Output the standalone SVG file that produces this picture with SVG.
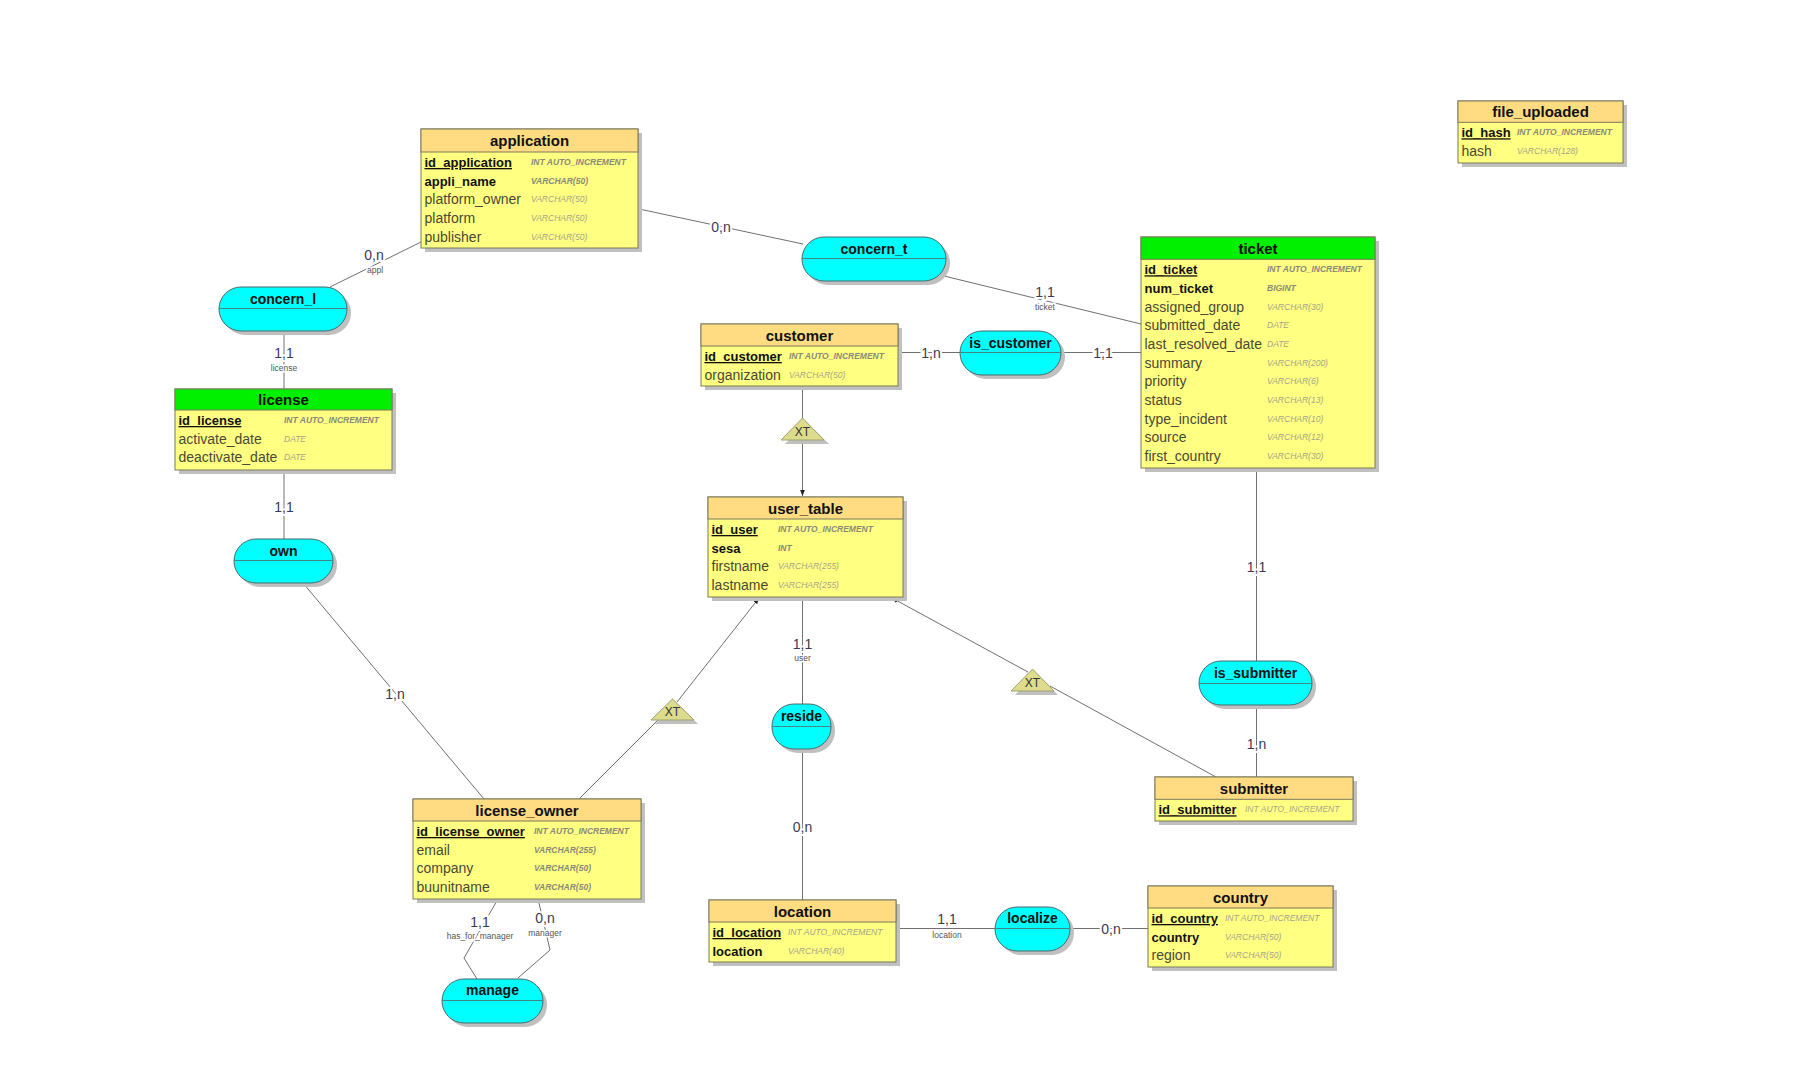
<svg xmlns="http://www.w3.org/2000/svg" width="1800" height="1080" viewBox="0 0 1800 1080">
<defs>
<style>
.bg{fill:#ffffff}
.sh{fill:#c0c0c0}
.hdr{fill:#ffdc82;stroke:#7a7a5a;stroke-width:1}
.hdrg{fill:#00f000;stroke:#7a7a5a;stroke-width:1}
.body{fill:#ffff82;stroke:#7a7a5a;stroke-width:1}
.ttl{font-family:"Liberation Sans",Arial,sans-serif;font-size:15px;font-weight:bold;fill:#111;text-anchor:middle}
.k{font-family:"Liberation Sans",Arial,sans-serif;font-size:13px;font-weight:bold;fill:#111}
.u{text-decoration:underline}
.n{font-family:"Liberation Sans",Arial,sans-serif;font-size:14px;fill:#4a4a34}
.tk{font-family:"Liberation Sans",Arial,sans-serif;font-size:8.5px;font-weight:bold;font-style:italic;fill:#8a8a7a}
.tn{font-family:"Liberation Sans",Arial,sans-serif;font-size:8.5px;font-style:italic;fill:#a5a58a}
.rel{fill:#00ffff;stroke:#4a6a6a;stroke-width:1}
.div{stroke:#3c8a8a;stroke-width:1}
.rt{font-family:"Liberation Sans",Arial,sans-serif;font-size:14px;font-weight:bold;fill:#111;text-anchor:middle}
.conn{stroke:#707070;stroke-width:1;fill:none}
.card{font-family:"Liberation Sans",Arial,sans-serif;font-size:14px;fill:#3a3a58;text-anchor:middle;stroke:#fff;stroke-width:4;paint-order:stroke}
.role{font-family:"Liberation Sans",Arial,sans-serif;font-size:8.5px;fill:#555;text-anchor:middle;stroke:#fff;stroke-width:3;paint-order:stroke}
.tri{fill:#dcdc8c;stroke:#a0a070;stroke-width:1}
.xt{font-family:"Liberation Sans",Arial,sans-serif;font-size:12px;fill:#333;text-anchor:middle}
</style>
<marker id="arr" viewBox="0 0 10 10" refX="10" refY="5" markerWidth="6" markerHeight="6" orient="auto-start-reverse">
<path d="M0,1 L10,5 L0,9 z" fill="#222"/>
</marker>
</defs>
<rect class="bg" x="0" y="0" width="1800" height="1080"/>

<g id="connectors">
<line class="conn" x1="639" y1="209" x2="803" y2="244"/>
<line class="conn" x1="421" y1="242" x2="330" y2="287"/>
<line class="conn" x1="944" y1="276" x2="1141" y2="324"/>
<line class="conn" x1="898" y1="352.5" x2="960" y2="352.5"/>
<line class="conn" x1="1061" y1="352.5" x2="1141" y2="352.5"/>
<line class="conn" x1="284" y1="331" x2="284" y2="389"/>
<line class="conn" x1="284" y1="470" x2="284" y2="539"/>
<line class="conn" x1="303" y1="583" x2="484" y2="799"/>
<line class="conn" x1="802.5" y1="386" x2="802.5" y2="420"/>
<line class="conn" x1="802.5" y1="440" x2="802.5" y2="496" marker-end="url(#arr)"/>
<line class="conn" x1="802.5" y1="597" x2="802.5" y2="704"/>
<line class="conn" x1="802.5" y1="749" x2="802.5" y2="900"/>
<line class="conn" x1="896" y1="928.5" x2="995" y2="928.5"/>
<line class="conn" x1="1070" y1="928.5" x2="1148" y2="928.5"/>
<line class="conn" x1="1256.5" y1="468" x2="1256.5" y2="661"/>
<line class="conn" x1="1256.5" y1="705" x2="1256.5" y2="777"/>
<line class="conn" x1="579" y1="799" x2="662" y2="716"/>
<line class="conn" x1="677" y1="702" x2="759" y2="598" marker-end="url(#arr)"/>
<line class="conn" x1="1216" y1="777" x2="1050" y2="686"/>
<line class="conn" x1="1028" y1="672" x2="892" y2="598" marker-end="url(#arr)"/>
<polyline class="conn" points="498,899 464,958 477,979"/>
<polyline class="conn" points="538,899 550,950 518,978"/>
<text class="card" x="721" y="232">0,n</text>
<text class="card" x="374" y="260">0,n</text>
<text class="role" x="375" y="273">appl</text>
<text class="card" x="1045" y="296.5">1,1</text>
<text class="role" x="1045" y="310">ticket</text>
<text class="card" x="931" y="357.5">1,n</text>
<text class="card" x="1103" y="357.5">1,1</text>
<text class="card" x="284" y="357.5">1,1</text>
<text class="role" x="284" y="371">license</text>
<text class="card" x="284" y="512">1,1</text>
<text class="card" x="395" y="698.5">1,n</text>
<text class="card" x="802.5" y="649">1,1</text>
<text class="role" x="802.5" y="661">user</text>
<text class="card" x="802.5" y="831.5">0,n</text>
<text class="card" x="947" y="924">1,1</text>
<text class="role" x="947" y="938">location</text>
<text class="card" x="1111" y="933.5">0,n</text>
<text class="card" x="1256.5" y="572">1,1</text>
<text class="card" x="1256.5" y="749">1,n</text>
<text class="card" x="480" y="926.5">1,1</text>
<text class="role" x="480" y="939">has_for_manager</text>
<text class="card" x="545" y="922.5">0,n</text>
<text class="role" x="545" y="936">manager</text>
</g>

<g id="xt_customer">
<polygon class="sh" points="806,422 829,444 785,444"/>
<polygon class="tri" points="802.5,418 824,440 781,440"/>
<text class="xt" x="802.5" y="436">XT</text>
</g>
<g id="xt_license_owner">
<polygon class="sh" points="676,703 698,724 655,724"/>
<polygon class="tri" points="672.5,699 694,720 651,720"/>
<text class="xt" x="672.5" y="716">XT</text>
</g>
<g id="xt_submitter">
<polygon class="sh" points="1036,673 1058,695 1015,695"/>
<polygon class="tri" points="1032.5,669 1054,691 1011,691"/>
<text class="xt" x="1032.5" y="687">XT</text>
</g>

<g id="application">
<rect class="sh" x="425" y="133" width="217" height="119"/>
<rect class="body" x="421" y="129" width="217" height="119"/>
<rect class="hdr" x="421" y="129" width="217" height="23"/>
<text class="ttl" x="529.5" y="146">application</text>
<text class="k u" x="424.5" y="167">id_application</text><text class="tk" x="531" y="165">INT AUTO_INCREMENT</text>
<text class="k" x="424.5" y="185.7">appli_name</text><text class="tk" x="531" y="183.7">VARCHAR(50)</text>
<text class="n" x="424.5" y="204.3">platform_owner</text><text class="tn" x="531" y="202.3">VARCHAR(50)</text>
<text class="n" x="424.5" y="223">platform</text><text class="tn" x="531" y="221">VARCHAR(50)</text>
<text class="n" x="424.5" y="241.7">publisher</text><text class="tn" x="531" y="239.7">VARCHAR(50)</text>
</g>

<g id="ticket">
<rect class="sh" x="1145" y="241" width="234" height="231"/>
<rect class="body" x="1141" y="237" width="234" height="231"/>
<rect class="hdrg" x="1141" y="237" width="234" height="22.3"/>
<text class="ttl" x="1258" y="253.5">ticket</text>
<text class="k u" x="1144.5" y="274.3">id_ticket</text><text class="tk" x="1267" y="272.3">INT AUTO_INCREMENT</text>
<text class="k" x="1144.5" y="293">num_ticket</text><text class="tk" x="1267" y="291">BIGINT</text>
<text class="n" x="1144.5" y="311.7">assigned_group</text><text class="tn" x="1267" y="309.7">VARCHAR(30)</text>
<text class="n" x="1144.5" y="330.3">submitted_date</text><text class="tn" x="1267" y="328.3">DATE</text>
<text class="n" x="1144.5" y="349">last_resolved_date</text><text class="tn" x="1267" y="347">DATE</text>
<text class="n" x="1144.5" y="367.7">summary</text><text class="tn" x="1267" y="365.7">VARCHAR(200)</text>
<text class="n" x="1144.5" y="386.3">priority</text><text class="tn" x="1267" y="384.3">VARCHAR(6)</text>
<text class="n" x="1144.5" y="405">status</text><text class="tn" x="1267" y="403">VARCHAR(13)</text>
<text class="n" x="1144.5" y="423.7">type_incident</text><text class="tn" x="1267" y="421.7">VARCHAR(10)</text>
<text class="n" x="1144.5" y="442.3">source</text><text class="tn" x="1267" y="440.3">VARCHAR(12)</text>
<text class="n" x="1144.5" y="461">first_country</text><text class="tn" x="1267" y="459">VARCHAR(30)</text>
</g>

<g id="license">
<rect class="sh" x="179" y="393" width="217" height="81"/>
<rect class="body" x="175" y="389" width="217" height="81"/>
<rect class="hdrg" x="175" y="389" width="217" height="21"/>
<text class="ttl" x="283.5" y="405">license</text>
<text class="k u" x="178.5" y="425">id_license</text><text class="tk" x="284" y="423">INT AUTO_INCREMENT</text>
<text class="n" x="178.5" y="443.7">activate_date</text><text class="tn" x="284" y="441.7">DATE</text>
<text class="n" x="178.5" y="462.3">deactivate_date</text><text class="tn" x="284" y="460.3">DATE</text>
</g>

<g id="customer">
<rect class="sh" x="705" y="328" width="197" height="62"/>
<rect class="body" x="701" y="324" width="197" height="62"/>
<rect class="hdr" x="701" y="324" width="197" height="22"/>
<text class="ttl" x="799.5" y="340.5">customer</text>
<text class="k u" x="704.5" y="361">id_customer</text><text class="tk" x="789" y="359">INT AUTO_INCREMENT</text>
<text class="n" x="704.5" y="379.7">organization</text><text class="tn" x="789" y="377.7">VARCHAR(50)</text>
</g>

<g id="user_table">
<rect class="sh" x="712" y="501" width="195" height="100"/>
<rect class="body" x="708" y="497" width="195" height="100"/>
<rect class="hdr" x="708" y="497" width="195" height="22"/>
<text class="ttl" x="805.5" y="513.5">user_table</text>
<text class="k u" x="711.5" y="534">id_user</text><text class="tk" x="778" y="532">INT AUTO_INCREMENT</text>
<text class="k" x="711.5" y="552.7">sesa</text><text class="tk" x="778" y="550.7">INT</text>
<text class="n" x="711.5" y="571.3">firstname</text><text class="tn" x="778" y="569.3">VARCHAR(255)</text>
<text class="n" x="711.5" y="590">lastname</text><text class="tn" x="778" y="588">VARCHAR(255)</text>
</g>

<g id="license_owner">
<rect class="sh" x="417" y="803" width="228" height="100"/>
<rect class="body" x="413" y="799" width="228" height="100"/>
<rect class="hdr" x="413" y="799" width="228" height="22"/>
<text class="ttl" x="527" y="815.5">license_owner</text>
<text class="k u" x="416.5" y="836">id_license_owner</text><text class="tk" x="534" y="834">INT AUTO_INCREMENT</text>
<text class="n" x="416.5" y="854.7">email</text><text class="tk" x="534" y="852.7">VARCHAR(255)</text>
<text class="n" x="416.5" y="873.3">company</text><text class="tk" x="534" y="871.3">VARCHAR(50)</text>
<text class="n" x="416.5" y="892">buunitname</text><text class="tk" x="534" y="890">VARCHAR(50)</text>
</g>

<g id="location">
<rect class="sh" x="713" y="904" width="187" height="62"/>
<rect class="body" x="709" y="900" width="187" height="62"/>
<rect class="hdr" x="709" y="900" width="187" height="22"/>
<text class="ttl" x="802.5" y="916.5">location</text>
<text class="k u" x="712.5" y="937">id_location</text><text class="tn" x="788" y="935">INT AUTO_INCREMENT</text>
<text class="k" x="712.5" y="955.7">location</text><text class="tn" x="788" y="953.7">VARCHAR(40)</text>
</g>

<g id="country">
<rect class="sh" x="1152" y="890" width="185" height="81"/>
<rect class="body" x="1148" y="886" width="185" height="81"/>
<rect class="hdr" x="1148" y="886" width="185" height="22"/>
<text class="ttl" x="1240.5" y="902.5">country</text>
<text class="k u" x="1151.5" y="923">id_country</text><text class="tn" x="1225" y="921">INT AUTO_INCREMENT</text>
<text class="k" x="1151.5" y="941.7">country</text><text class="tn" x="1225" y="939.7">VARCHAR(50)</text>
<text class="n" x="1151.5" y="960.3">region</text><text class="tn" x="1225" y="958.3">VARCHAR(50)</text>
</g>

<g id="submitter">
<rect class="sh" x="1159" y="781" width="198" height="44"/>
<rect class="body" x="1155" y="777" width="198" height="44"/>
<rect class="hdr" x="1155" y="777" width="198" height="22.3"/>
<text class="ttl" x="1254" y="793.5">submitter</text>
<text class="k u" x="1158.5" y="814.3">id_submitter</text><text class="tn" x="1245" y="812.3">INT AUTO_INCREMENT</text>
</g>

<g id="file_uploaded">
<rect class="sh" x="1462" y="105" width="165" height="62"/>
<rect class="body" x="1458" y="101" width="165" height="62"/>
<rect class="hdr" x="1458" y="101" width="165" height="21.3"/>
<text class="ttl" x="1540.5" y="117">file_uploaded</text>
<text class="k u" x="1461.5" y="137.3">id_hash</text><text class="tk" x="1517" y="135.3">INT AUTO_INCREMENT</text>
<text class="n" x="1461.5" y="156">hash</text><text class="tn" x="1517" y="154">VARCHAR(128)</text>
</g>

<g id="concern_l">
<rect class="sh" x="223" y="291" width="128" height="44" rx="22"/>
<rect class="rel" x="219" y="287" width="128" height="44" rx="22"/>
<line class="div" x1="219" y1="308.5" x2="347" y2="308.5"/>
<text class="rt" x="283" y="303.5">concern_l</text>
</g>
<g id="concern_t">
<rect class="sh" x="806" y="241" width="144" height="44" rx="22"/>
<rect class="rel" x="802" y="237" width="144" height="44" rx="22"/>
<line class="div" x1="802" y1="258.5" x2="946" y2="258.5"/>
<text class="rt" x="874" y="253.5">concern_t</text>
</g>
<g id="is_customer">
<rect class="sh" x="964" y="335" width="101" height="44" rx="22"/>
<rect class="rel" x="960" y="331" width="101" height="44" rx="22"/>
<line class="div" x1="960" y1="352.5" x2="1061" y2="352.5"/>
<text class="rt" x="1010.5" y="347.5">is_customer</text>
</g>
<g id="own">
<rect class="sh" x="238" y="543" width="99" height="44" rx="22"/>
<rect class="rel" x="234" y="539" width="99" height="44" rx="22"/>
<line class="div" x1="234" y1="560.5" x2="333" y2="560.5"/>
<text class="rt" x="283.5" y="555.5">own</text>
</g>
<g id="reside">
<rect class="sh" x="776" y="708" width="59" height="45" rx="22"/>
<rect class="rel" x="772" y="704" width="59" height="45" rx="22"/>
<line class="div" x1="772" y1="726.5" x2="831" y2="726.5"/>
<text class="rt" x="801.5" y="721">reside</text>
</g>
<g id="is_submitter">
<rect class="sh" x="1203" y="665" width="113" height="44" rx="22"/>
<rect class="rel" x="1199" y="661" width="113" height="44" rx="22"/>
<line class="div" x1="1199" y1="683.5" x2="1312" y2="683.5"/>
<text class="rt" x="1255.5" y="678">is_submitter</text>
</g>
<g id="localize">
<rect class="sh" x="999" y="911" width="75" height="44" rx="22"/>
<rect class="rel" x="995" y="907" width="75" height="44" rx="22"/>
<line class="div" x1="995" y1="928.5" x2="1070" y2="928.5"/>
<text class="rt" x="1032.5" y="922.5">localize</text>
</g>
<g id="manage">
<rect class="sh" x="446" y="983" width="101" height="44" rx="22"/>
<rect class="rel" x="442" y="979" width="101" height="44" rx="22"/>
<line class="div" x1="442" y1="1000.5" x2="543" y2="1000.5"/>
<text class="rt" x="492.5" y="995">manage</text>
</g>
</svg>
